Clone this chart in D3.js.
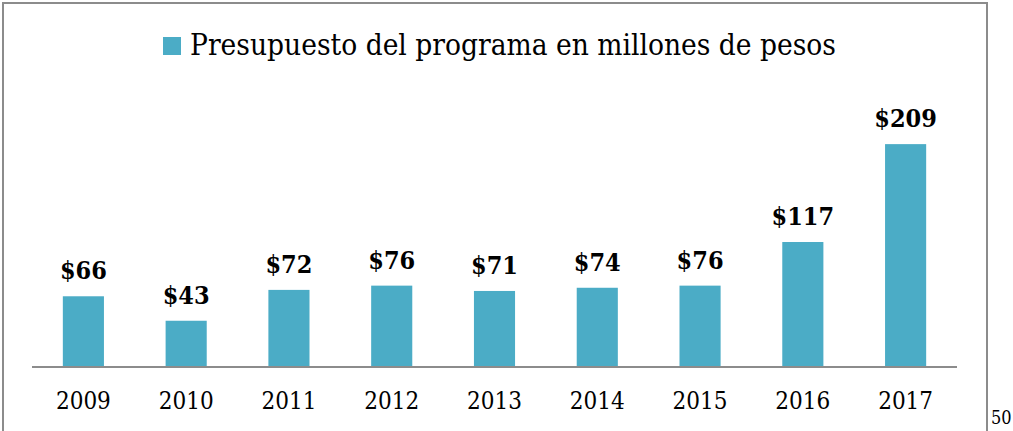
<!DOCTYPE html>
<html>
<head>
<meta charset="utf-8">
<script src="https://cdn.jsdelivr.net/npm/d3@7"></script>
<style>
  body { margin: 0; background: #fff; }
  svg { display: block; }
</style>
</head>
<body>
<div id="chart"></div>
<script>
// presupuesto del programa, millones de pesos
const years = ["2009", "2010", "2011", "2012", "2013", "2014", "2015", "2016", "2017"]
const budget = [66, 43, 72, 76, 71, 74, 76, 117, 209]
const legendLabel = "Presupuesto del programa en millones de pesos"
const pageNumber = "50"

let width = 1013
let height = 431
let barColor = "#4bacc6"
let serif = "'DejaVu Serif', 'Liberation Serif', serif"

var svg = d3.select("#chart")
    .append("svg")
    .attr("width", width)
    .attr("height", height)

// frame: top + sides only, bottom is cut off
svg.append("path")
    .attr("d", "M3,431 V3 H987 V431")
    .attr("fill", "none")
    .attr("stroke", "#8c8c8c")
    .attr("stroke-width", 2)

var x = d3.scaleBand()
    .domain(years)
    .range([32, 957])
    .paddingInner(0.6)
    .paddingOuter(0.3)

var y = d3.scaleLinear()
    .domain([0, 250])
    .range([366.5, 100.5])

let data = years.map((yr, i) => ({ year: yr, value: budget[i] }))

svg.selectAll("rect.bar")
    .data(data)
    .enter()
    .append("rect")
    .attr("class", "bar")
    .attr("x", d => x(d.year))
    .attr("y", d => y(d.value))
    .attr("width", x.bandwidth())
    .attr("height", d => y(0) - y(d.value))
    .attr("fill", barColor)

// value labels
svg.selectAll("text.val")
    .data(data)
    .enter()
    .append("text")
    .attr("class", "val")
    .attr("x", d => x(d.year) + x.bandwidth() / 2)
    .attr("y", d => y(d.value) - 17)
    .attr("text-anchor", "middle")
    .style("font-family", serif)
    .style("font-stretch", "condensed")
    .style("font-weight", "bold")
    .style("font-size", "25px")
    .text(d => "$" + d.value)

// x axis
const xAxis = svg.append("g")
    .attr("transform", "translate(0," + y(0) + ")")
    .call(d3.axisBottom(x).tickSize(0).tickPadding(25))

xAxis.select(".domain")
    .attr("d", "M32,0.5H957")
    .attr("stroke", "#8c8c8c")
    .attr("stroke-width", 2)

xAxis.selectAll("text")
    .style("font-family", serif)
    .style("font-stretch", "condensed")
    .style("font-size", "24px")
    .attr("fill", "#000")

// legend
const legend = svg.append("g")
legend.append("rect")
    .attr("x", 163)
    .attr("y", 37)
    .attr("width", 18)
    .attr("height", 18)
    .attr("fill", barColor)
legend.append("text")
    .attr("x", 190)
    .attr("y", 55)
    .style("font-family", serif)
    .style("font-stretch", "condensed")
    .style("font-size", "29px")
    .attr("textLength", 646)
    .attr("lengthAdjust", "spacingAndGlyphs")
    .text(legendLabel)

svg.append("text")
    .attr("x", 991)
    .attr("y", 424)
    .style("font-family", serif)
    .style("font-stretch", "condensed")
    .style("font-size", "18px")
    .text(pageNumber)
</script>
</body>
</html>
